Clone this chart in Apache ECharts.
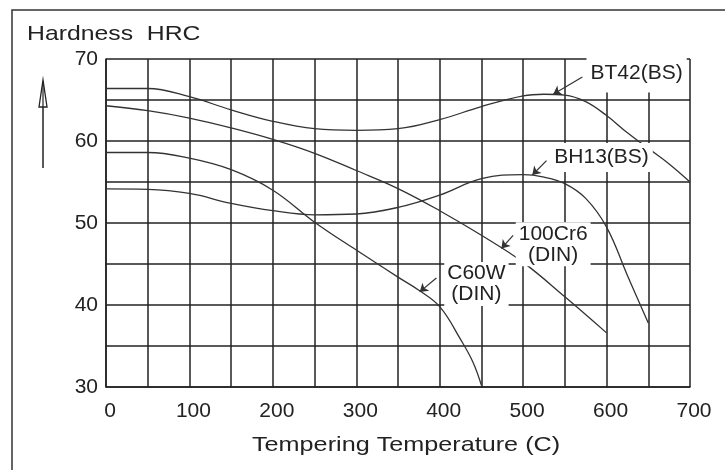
<!DOCTYPE html>
<html>
<head>
<meta charset="utf-8">
<script src="https://cdn.jsdelivr.net/npm/echarts@6/dist/echarts.min.js"></script>
<style>
  html, body { margin: 0; padding: 0; background: #fff; }
  #main { width: 725px; height: 470px; }
</style>
</head>
<body>
<div id="main"></div>
<script>
// tempering temperature (C) -> hardness (HRC)
const bt42Temp = [0, 50, 100, 150, 200, 250, 300, 350, 400, 450, 500, 525, 550, 575, 600, 625, 650, 675, 700];
const bt42Hrc  = [66.4, 66.4, 65.4, 63.8, 62.4, 61.5, 61.3, 61.5, 62.6, 64.2, 65.5, 65.7, 65.6, 64.8, 63.1, 61.0, 59.1, 57.2, 55.0];

const cr6Temp = [0, 50, 100, 150, 200, 250, 300, 350, 400, 450, 500, 550, 600];
const cr6Hrc  = [64.3, 63.7, 62.8, 61.6, 60.2, 58.5, 56.4, 54.2, 51.5, 48.5, 45.2, 41.0, 36.6];

const c60wTemp = [0, 50, 100, 150, 200, 250, 300, 350, 375, 400, 425, 440, 450];
const c60wHrc  = [58.6, 58.6, 57.9, 56.5, 54.0, 50.1, 46.7, 43.4, 41.8, 39.8, 35.8, 33.0, 30.2];

const bh13Temp = [0, 50, 100, 150, 200, 250, 300, 350, 400, 450, 500, 525, 550, 575, 600, 625, 650];
const bh13Hrc  = [54.15, 54.1, 53.6, 52.4, 51.5, 51.0, 51.1, 51.9, 53.4, 55.4, 55.9, 55.6, 54.8, 53.0, 49.5, 43.6, 37.8];

const xTicks = [0, 100, 200, 300, 400, 500, 600, 700];
const yTicks = [30, 40, 50, 60, 70];

const ink = '#222';
const font = 'Liberation Sans, Arial, sans-serif';

function pairs(xs, ys) {
    return xs.map((x, i) => [x, ys[i]]);
}

// curve + leader arrow + label text
function curve(name, xs, ys, leaderFrom, leaderTo, textAt, text, pad) {
    return {
        name: name,
        type: 'line',
        smooth: 0.4,
        showSymbol: false,
        symbol: 'none',
        z: 2,
        lineStyle: { color: '#333', width: 1.3 },
        data: pairs(xs, ys),
        markLine: {
            silent: true,
            symbol: ['none', 'arrow'],
            symbolSize: 8,
            lineStyle: { color: '#333', width: 1.2, type: 'solid' },
            label: { show: false },
            data: [[{ coord: leaderFrom }, { coord: leaderTo }]]
        },
        markPoint: {
            silent: true,
            symbol: 'circle',
            symbolSize: 1,
            itemStyle: { color: 'rgba(0,0,0,0)' },
            label: {
                show: true,
                position: 'inside',
                color: ink,
                fontFamily: font,
                fontSize: 21,
                lineHeight: 21,
                align: 'center',
                backgroundColor: '#fff',
                padding: pad,
                formatter: text
            },
            data: [{ coord: textAt }]
        }
    };
}

const chart = echarts.init(document.getElementById('main'));

chart.setOption({
    animation: false,
    backgroundColor: '#fff',
    grid: { left: 106, right: 35, top: 59, bottom: 83 },
    xAxis: {
        type: 'value',
        min: 0,
        max: 700,
        interval: 50,
        axisLine: { show: true, lineStyle: { color: ink, width: 1.5 } },
        axisTick: { show: false },
        splitLine: { show: true, lineStyle: { color: ink, width: 1.5 } },
        axisLabel: {
            color: ink,
            fontFamily: font,
            fontSize: 21,
            margin: 14,
            padding: [0, 0, 0, 8],
            formatter: v => xTicks.includes(v) ? String(v) : ''
        }
    },
    yAxis: {
        type: 'value',
        min: 30,
        max: 70,
        interval: 5,
        axisLine: { show: true, lineStyle: { color: ink, width: 1.5 } },
        axisTick: { show: false },
        splitLine: { show: true, lineStyle: { color: ink, width: 1.5 } },
        axisLabel: {
            color: ink,
            fontFamily: font,
            fontSize: 21,
            margin: 8,
            formatter: v => yTicks.includes(v) ? String(v) : ''
        }
    },
    graphic: [
        // outer frame (top and left edges only)
        {
            type: 'polyline',
            shape: { points: [[12, 470], [12, 10], [725, 10]] },
            style: { stroke: '#333', lineWidth: 1.5, fill: null }
        },
        // axis titles, a little stretched like the original lettering
        {
            type: 'text',
            x: 27,
            y: 34,
            scaleX: 1.18,
            style: { text: 'Hardness  HRC', fill: ink, fontFamily: font, fontSize: 21, verticalAlign: 'middle' }
        },
        {
            type: 'text',
            x: 252,
            y: 445,
            scaleX: 1.2,
            style: { text: 'Tempering Temperature (C)', fill: ink, fontFamily: font, fontSize: 21, verticalAlign: 'middle' }
        },
        // "increasing" arrow next to the hardness axis
        {
            type: 'line',
            shape: { x1: 43, y1: 81, x2: 43, y2: 168 },
            style: { stroke: '#222', lineWidth: 1.5 }
        },
        {
            type: 'polygon',
            shape: { points: [[43, 80], [39, 107], [47, 107]] },
            style: { stroke: '#222', lineWidth: 1.3, fill: '#fff' }
        },
        {
            type: 'line',
            shape: { x1: 43, y1: 84, x2: 43, y2: 107 },
            style: { stroke: '#222', lineWidth: 1.2 }
        }
    ],
    series: [
        curve('BT42(BS)', bt42Temp, bt42Hrc, [571, 67.8], [536, 65.7], [636, 68.3], 'BT42(BS)', [9, 4]),
        curve('BH13(BS)', bh13Temp, bh13Hrc, [528, 57.6], [511, 55.85], [594, 58.0], 'BH13(BS)', [4, 4]),
        curve('100Cr6', cr6Temp, cr6Hrc, [488, 48.5], [474, 46.9], [536, 47.4], '100Cr6\n(DIN)', [1, 3]),
        curve('C60W', c60wTemp, c60wHrc, [396, 43.3], [376, 41.6], [444, 42.55], 'C60W\n(DIN)', [1, 3])
    ]
});
</script>
</body>
</html>
